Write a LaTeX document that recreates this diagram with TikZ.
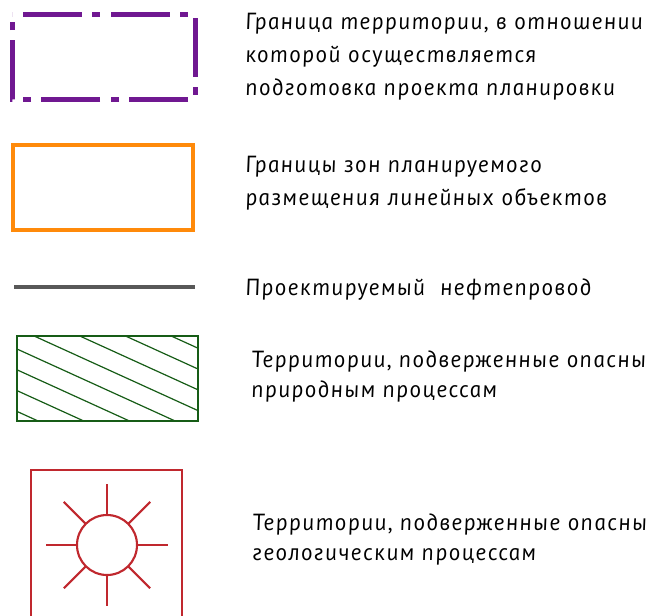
\documentclass[tikz,border=0pt]{standalone}
\usepackage{fontspec}
\newfontfamily\gostfont[FakeSlant=-0.17, LetterSpace=6]{PT Sans Italic}
\definecolor{bordviolet}{RGB}{112,24,145}
\definecolor{zoneorange}{RGB}{255,138,10}
\definecolor{pipegray}{RGB}{88,88,88}
\definecolor{hazgreen}{RGB}{22,92,22}
\definecolor{geored}{RGB}{192,40,46}

\begin{document}
\begin{tikzpicture}[x=0.75pt, y=-0.75pt,
  legtext/.style={anchor=base west, inner sep=0pt, font=\gostfont\fontsize{17.5}{20}\selectfont}]
\useasboundingbox (0,0) rectangle (653,615);
\clip (0,0) rectangle (653,615);

\draw[bordviolet, line width=3.75pt, dash pattern=on 44.25pt off 7.5pt on 6pt off 8.25pt, dash phase=57.75pt] (12,14) -- (195,14) -- (195,99) -- (12,99) -- cycle;

\draw[zoneorange, line width=2.4pt] (13,145) rectangle (193,230);

\coordinate (pipeA) at (14,287);
\coordinate (pipeB) at (195,287);
\draw[pipegray, line width=2.3pt] (pipeA) -- (pipeB);

\begin{scope}
\clip (17,336) rectangle (198,421);
\foreach \k in {-8,...,3}
  \draw[hazgreen, line width=0.9pt] (17,349+20.8*\k) -- (198,349+20.8*\k+82.4);
\end{scope}
\draw[hazgreen, line width=1.9pt] (17,336) rectangle (198,421);

\draw[geored, line width=1.6pt] (31,625) -- (31,470) -- (182,470) -- (182,625);
\coordinate (sunc) at (107,545);
\draw[geored, line width=1.6pt] (sunc) circle[radius=22.5pt];
\foreach \a in {0,45,...,315}
  \draw[geored, line width=1.6pt, shift={(sunc)}] (\a:22.5pt) -- (\a:45.75pt);

\node[legtext] (t1a) at (246,29) {Граница территории, в отношении};
\node[legtext] (t1b) at (246,62) {которой осуществляется};
\node[legtext] (t1c) at (246,95) {подготовка проекта планировки};

\node[legtext] (t2a) at (246,172) {Границы зон планируемого};
\node[legtext] (t2b) at (246,205) {размещения линейных объектов};

\node[legtext] (t3) at (246,295) {Проектируемый\ \ нефтепровод};

\node[legtext] (t4a) at (252,367) {Территории, подверженные опасны};
\node[legtext] (t4b) at (252,397) {природным процессам};

\node[legtext] (t5a) at (253,530) {Территории, подверженные опасны};
\node[legtext] (t5b) at (253,560) {геологическим процессам};
\end{tikzpicture}
\end{document}
